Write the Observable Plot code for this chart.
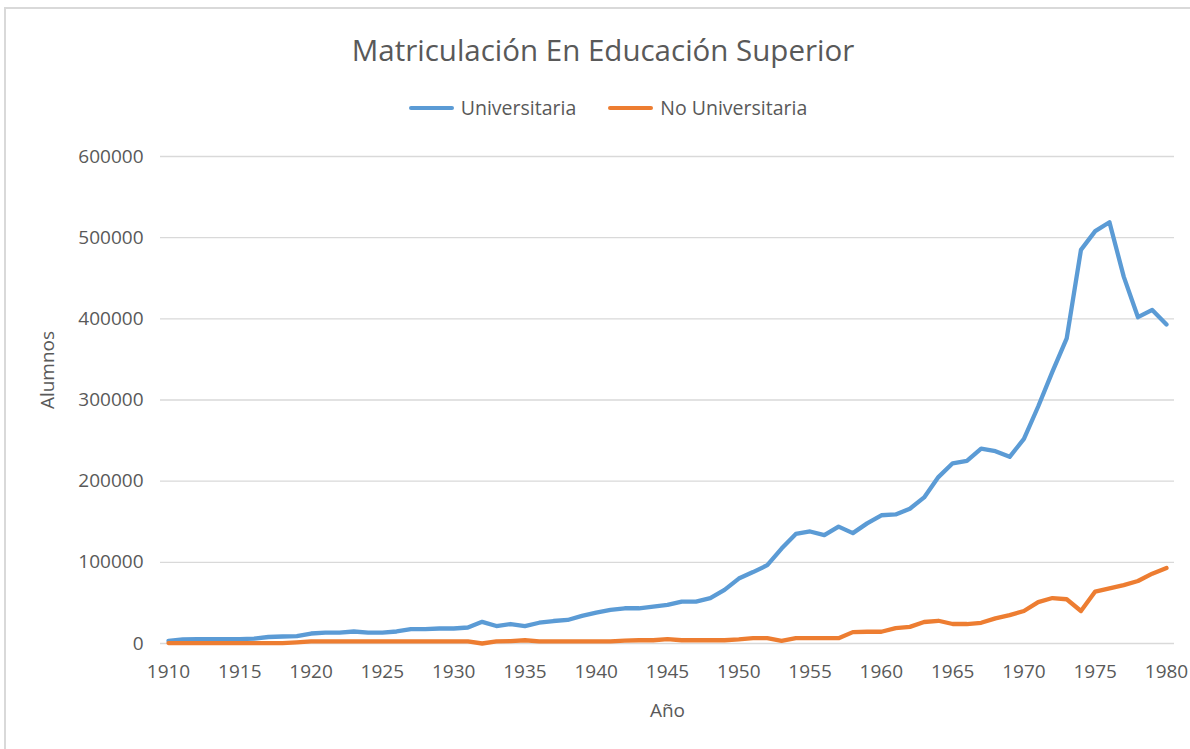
<!DOCTYPE html>
<html>
<head>
<meta charset="utf-8">
<script src="https://cdn.jsdelivr.net/npm/d3@7"></script>
<script src="https://cdn.jsdelivr.net/npm/@observablehq/plot@0.6"></script>
<style>
  html, body { margin: 0; padding: 0; width: 1190px; height: 749px; overflow: hidden; background: #fff; }
  body { position: relative; font-family: "Open Sans", "Noto Sans", sans-serif; color: #595959; }
  #frame { position: absolute; left: 4px; top: 7px; width: 1200px; height: 800px; border: 2px solid #d9d9d9; box-sizing: border-box; }
  #title { position: absolute; left: 0; width: 1190px; top: 31px; text-align: center; font-size: 29.5px; line-height: 38px; color: #595959; padding-left: 16px; box-sizing: border-box; }
  #legend { position: absolute; left: 0; width: 1190px; top: 95px; display: flex; justify-content: center; font-size: 19.5px; line-height: 26px; color: #595959; padding-left: 26px; box-sizing: border-box; }
  .item { display: flex; align-items: center; margin: 0 16px; }
  .sw { width: 45px; height: 4px; border-radius: 2px; margin-right: 7px; }
  #chart { position: absolute; left: 0; top: 130px; }
</style>
</head>
<body>
<div id="frame"></div>
<div id="title">Matriculación En Educación Superior</div>
<div id="legend"></div>
<div id="chart"></div>
<script>
const years = [1910,1911,1912,1913,1914,1915,1916,1917,1918,1919,
  1920,1921,1922,1923,1924,1925,1926,1927,1928,1929,
  1930,1931,1932,1933,1934,1935,1936,1937,1938,1939,
  1940,1941,1942,1943,1944,1945,1946,1947,1948,1949,
  1950,1951,1952,1953,1954,1955,1956,1957,1958,1959,
  1960,1961,1962,1963,1964,1965,1966,1967,1968,1969,
  1970,1971,1972,1973,1974,1975,1976,1977,1978,1979,1980];

const universitaria = [3300,5000,5300,5300,5300,5300,6000,8000,8600,9000,
  12300,13500,13500,14800,13500,13500,14800,17600,17600,18500,
  18500,19700,26700,21500,24000,21500,25600,27700,29000,34000,
  38000,41300,43400,43400,45500,47500,51700,51700,55800,66000,
  80000,88000,96500,117000,135000,138000,133500,144000,136000,148000,
  158000,159000,166000,180000,205000,222000,225000,240000,237000,230000,
  252000,292000,335000,376000,485000,508000,519000,452000,402000,411000,393000];

const noUniversitaria = [500,500,500,500,500,500,500,500,500,1500,
  2500,2500,2500,2500,2500,2500,2500,2500,2500,2500,
  2500,2500,0,2500,3000,4000,2500,2500,2500,2500,
  2500,2500,3500,4000,4000,5500,4000,4000,4000,4000,
  5000,6500,6500,3300,6500,6500,6500,6500,14000,14500,
  14500,19000,20500,26500,28000,24000,24000,25500,31000,35000,
  40000,51000,56000,54500,40000,64000,68000,72000,77000,86000,93000];

const seriesNames = ["Universitaria", "No Universitaria"];
const seriesColors = ["#5B9BD5", "#ED7D31"];
const yTicks = [0,100000,200000,300000,400000,500000,600000];
const xTicks = [1910,1915,1920,1925,1930,1935,1940,1945,1950,1955,1960,1965,1970,1975,1980];
const xLabel = "Año";
const yLabel = "Alumnos";

const rowsU = years.map((yr, i) => ({year: yr, value: universitaria[i]}));
const rowsN = years.map((yr, i) => ({year: yr, value: noUniversitaria[i]}));

// legend
const legend = document.getElementById("legend");
seriesNames.forEach((n, i) => {
  const it = document.createElement("div");
  it.className = "item";
  const sw = document.createElement("div");
  sw.className = "sw";
  sw.style.background = seriesColors[i];
  const t = document.createElement("span");
  t.textContent = n;
  it.appendChild(sw); it.appendChild(t);
  legend.appendChild(it);
});

const chart = Plot.plot({
  width: 1190,
  height: 619,
  marginLeft: 160,
  marginRight: 16,
  marginTop: 26,
  marginBottom: 106,
  insetLeft: 8,
  insetRight: 8,
  style: { fontFamily: '"Open Sans", "Noto Sans", sans-serif', color: "#595959", background: "transparent" },
  x: { domain: [1910, 1980], label: null },
  y: { domain: [0, 600000], label: null },
  marks: [
    Plot.ruleY(yTicks, { stroke: "#d9d9d9", strokeWidth: 1.3 }),
    Plot.axisY({ ticks: yTicks, tickSize: 0, tickPadding: 17, tickFormat: d => String(d), fontSize: 19, fill: "#595959" }),
    Plot.axisX({ ticks: xTicks, tickSize: 0, tickPadding: 21, tickFormat: d => String(d), fontSize: 19, fill: "#595959" }),
    Plot.line(rowsU, { x: "year", y: "value", stroke: seriesColors[0], strokeWidth: 4.3, strokeLinejoin: "round", strokeLinecap: "round" }),
    Plot.line(rowsN, { x: "year", y: "value", stroke: seriesColors[1], strokeWidth: 4.3, strokeLinejoin: "round", strokeLinecap: "round" }),
    Plot.text([xLabel], { text: d => d, frameAnchor: "bottom", dy: 73, fontSize: 19, fill: "#595959" }),
    Plot.text([yLabel], { text: d => d, frameAnchor: "left", textAnchor: "middle", rotate: -90, dx: -113, dy: -30, fontSize: 19, fill: "#595959" })
  ]
});
document.getElementById("chart").appendChild(chart);
</script>
</body>
</html>
